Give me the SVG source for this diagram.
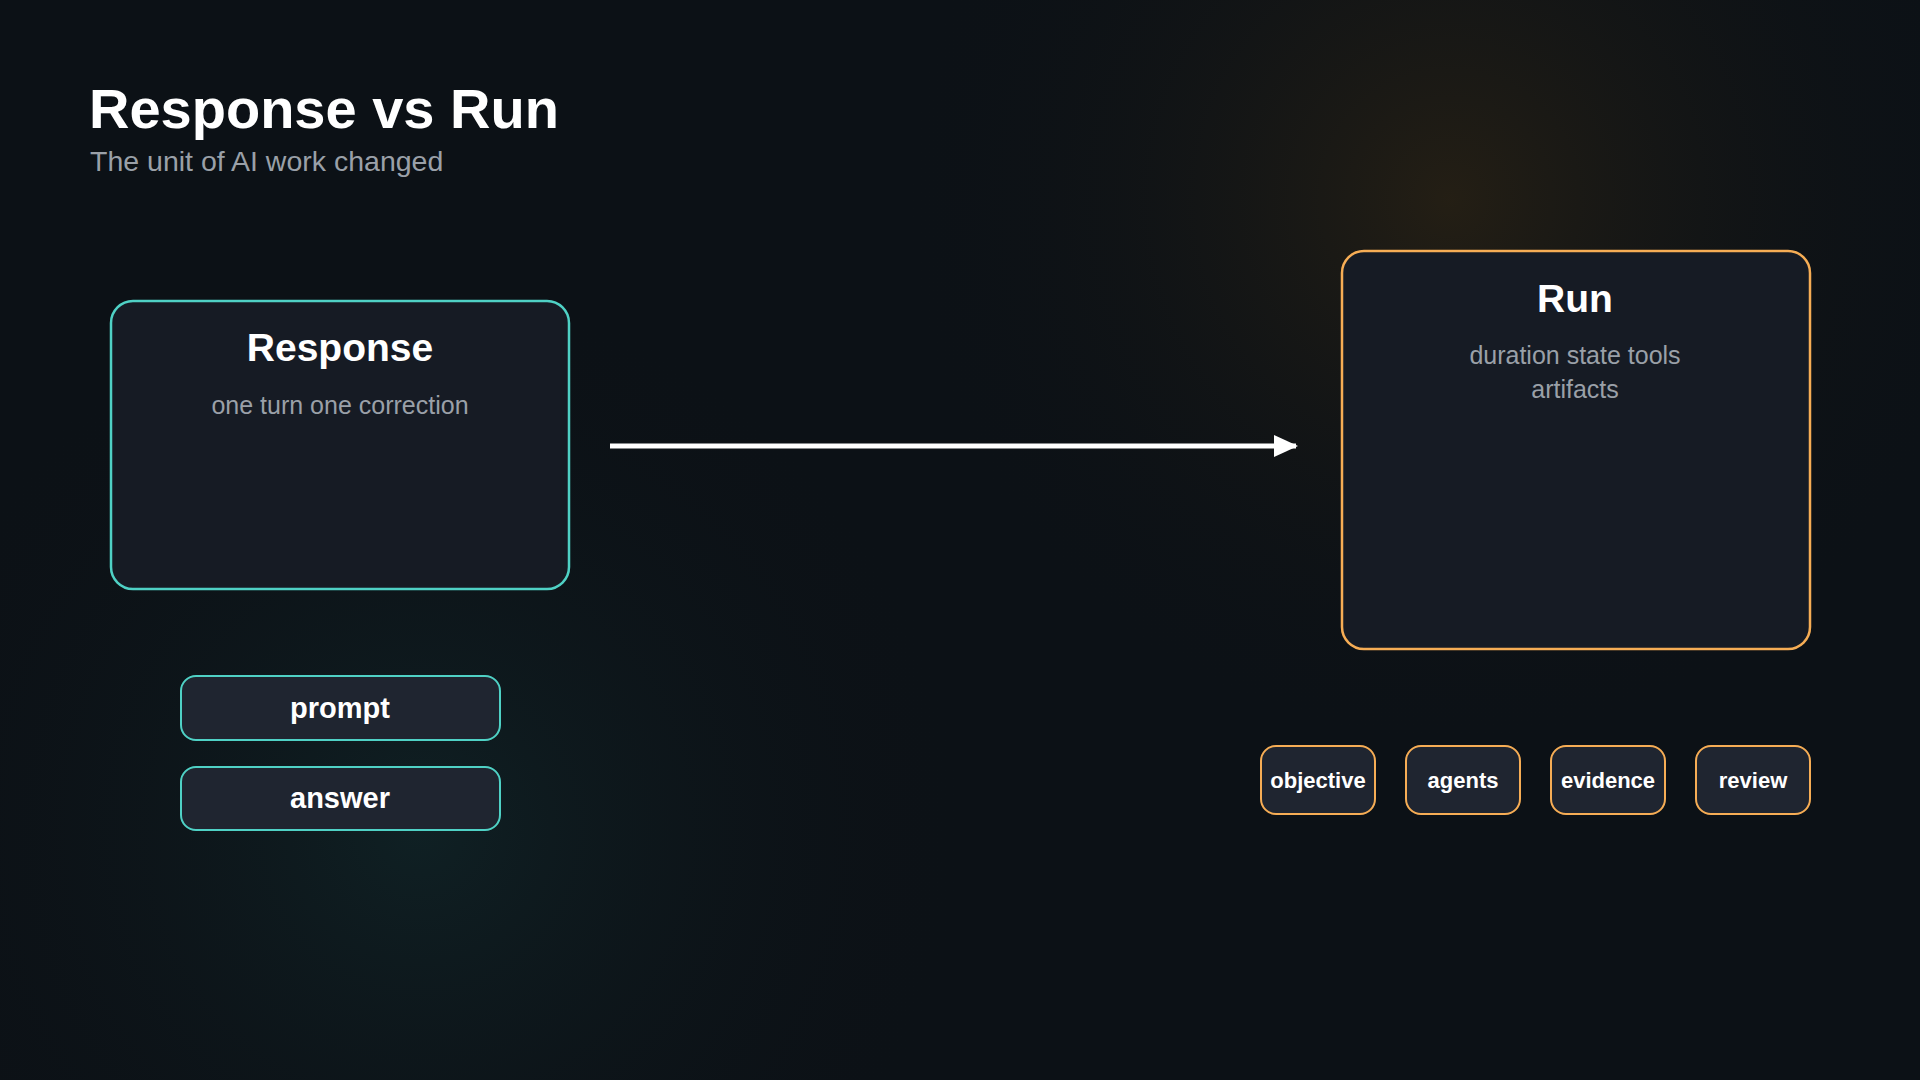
<svg xmlns="http://www.w3.org/2000/svg" width="1920" height="1080" viewBox="0 0 1920 1080">
<defs>
<radialGradient id="g1" cx="1450" cy="200" r="550" gradientUnits="userSpaceOnUse"><stop offset="0" stop-color="#2a2214" stop-opacity="0.8"/><stop offset="1" stop-color="#0c1116" stop-opacity="0"/></radialGradient>
<radialGradient id="g2" cx="420" cy="830" r="550" gradientUnits="userSpaceOnUse"><stop offset="0" stop-color="#11272a" stop-opacity="0.7"/><stop offset="1" stop-color="#0c1116" stop-opacity="0"/></radialGradient>
<marker id="ah2" markerWidth="24" markerHeight="22" refX="22" refY="11" orient="auto" markerUnits="userSpaceOnUse"><path d="M0,0 L24,11 L0,22 Z" fill="#fff"/></marker>
</defs>
<style>
text{font-family:"Liberation Sans",Arial,sans-serif}
.box{fill:#161b24;stroke-width:2.5}
.t{fill:#fff;stroke:none;text-anchor:middle}
.s{fill:#9aa0a8;text-anchor:middle;font-size:25px}
.pill{fill:#1f2530;stroke-width:2}
</style>
<rect width="1920" height="1080" fill="#0c1116"/>
<rect width="1920" height="1080" fill="url(#g1)"/>
<rect width="1920" height="1080" fill="url(#g2)"/>
<text x="89" y="128" font-size="56" font-weight="bold" fill="#fff">Response vs Run</text>
<text x="90" y="171" font-size="28.5" fill="#9aa0a8">The unit of AI work changed</text>
<g id="response"><rect class="box" x="111" y="301" width="458" height="288" rx="22" stroke="#4fd1c5"/><text class="t" x="340" y="361" font-size="39" font-weight="bold">Response</text><text class="s" x="340" y="414">one turn one correction</text></g>
<g id="run"><rect class="box" x="1342" y="251" width="468" height="398" rx="22" stroke="#f6ad55"/><text class="t" x="1575" y="312" font-size="39" font-weight="bold">Run</text><text class="s" x="1575" y="364">duration state tools</text><text class="s" x="1575" y="398">artifacts</text></g>
<g id="connectors"><line x1="610" y1="446" x2="1296" y2="446" stroke="#fff" stroke-width="5" marker-end="url(#ah2)"/></g>
<g id="prompt"><rect class="pill" x="181" y="676" width="319" height="64" rx="15" stroke="#4fd1c5"/><text class="t" x="340" y="718" font-size="29" font-weight="bold">prompt</text></g>
<g id="answer"><rect class="pill" x="181" y="767" width="319" height="63" rx="15" stroke="#4fd1c5"/><text class="t" x="340" y="808" font-size="29" font-weight="bold">answer</text></g>
<g id="objective"><rect class="pill" x="1261" y="746" width="114" height="68" rx="15" stroke="#f6ad55"/><text class="t" x="1318" y="788" font-size="22" font-weight="bold">objective</text></g>
<g id="agents"><rect class="pill" x="1406" y="746" width="114" height="68" rx="15" stroke="#f6ad55"/><text class="t" x="1463" y="788" font-size="22" font-weight="bold">agents</text></g>
<g id="evidence"><rect class="pill" x="1551" y="746" width="114" height="68" rx="15" stroke="#f6ad55"/><text class="t" x="1608" y="788" font-size="22" font-weight="bold">evidence</text></g>
<g id="review"><rect class="pill" x="1696" y="746" width="114" height="68" rx="15" stroke="#f6ad55"/><text class="t" x="1753" y="788" font-size="22" font-weight="bold">review</text></g>
</svg>
